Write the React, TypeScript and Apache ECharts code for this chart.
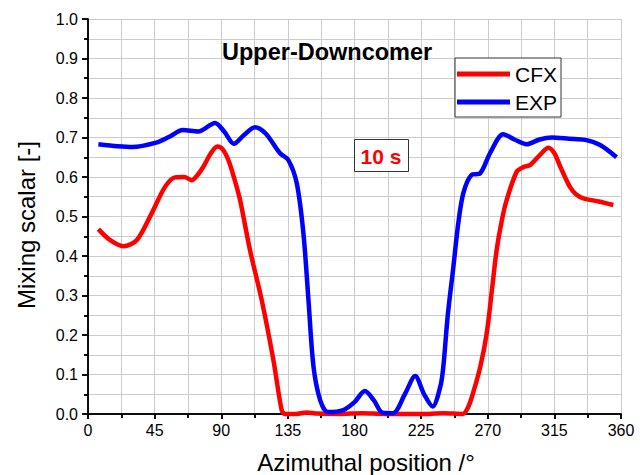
import React, { useEffect, useRef } from "react";
import * as echarts from "echarts";

const cfxAngles = [7, 15, 23.9, 32.9, 43, 52, 58.8, 65, 70, 74, 77.9, 83, 87.3, 91, 94.8, 98.5, 102.7, 109.4, 117.3, 125.2, 130.8, 133, 140, 147.7, 155, 170, 185, 200, 230, 240, 253, 256.5, 260, 265, 269.3, 273, 276, 279.5, 282.8, 289.5, 294, 298.5, 305, 311, 315, 319, 325.5, 330, 334.6, 345, 354.8];
const cfxValues = [0.468, 0.44, 0.425, 0.44, 0.508, 0.575, 0.599, 0.6, 0.592, 0.605, 0.626, 0.66, 0.677, 0.67, 0.643, 0.6, 0.542, 0.415, 0.289, 0.137, 0.01, 0, 0, 0.004, 0.001, 0, 0.002, 0, 0, 0.002, 0, 0.015, 0.052, 0.12, 0.204, 0.32, 0.415, 0.49, 0.542, 0.613, 0.625, 0.63, 0.655, 0.674, 0.66, 0.626, 0.575, 0.555, 0.546, 0.538, 0.529];

const expAngles = [7, 20, 30, 46, 55, 64, 74.5, 85.8, 92, 98.6, 105, 112.8, 120, 129.7, 135.3, 141, 145.5, 148.9, 152.3, 156.8, 162, 172.5, 180, 187, 193, 199, 206, 214, 221, 227, 232.8, 238, 240, 243, 246.8, 250, 253.5, 259, 264.8, 271.5, 280.5, 288, 296.3, 305, 313.2, 325, 335.8, 345.9, 357];
const expValues = [0.683, 0.678, 0.676, 0.687, 0.702, 0.719, 0.715, 0.737, 0.715, 0.684, 0.705, 0.726, 0.71, 0.66, 0.643, 0.584, 0.457, 0.289, 0.12, 0.035, 0.005, 0.01, 0.03, 0.058, 0.035, 0.003, 0.002, 0.05, 0.096, 0.05, 0.019, 0.07, 0.12, 0.25, 0.373, 0.48, 0.559, 0.605, 0.609, 0.66, 0.708, 0.695, 0.683, 0.695, 0.7, 0.697, 0.694, 0.681, 0.65];

const xTicks = [0, 45, 90, 135, 180, 225, 270, 315, 360];
const seriesNames = ["CFX", "EXP"];

const FONT = "'Liberation Sans', Arial, sans-serif";

export default function App() {
  const ref = useRef<HTMLDivElement>(null);
  useEffect(() => {
    if (!ref.current) return;
    const chart = echarts.init(ref.current, null, { renderer: "svg" });
    const gridLine = { show: true, lineStyle: { color: "#cccccc", width: 1 } };
    chart.setOption({
      animation: false,
      backgroundColor: "#ffffff",
      grid: { left: 88, right: 21, top: 19, bottom: 61 },
      legend: {
        orient: "vertical",
        left: 455,
        top: 58,
        data: seriesNames.map((n) => ({ name: n, icon: "rect" })),
        itemWidth: 53,
        itemHeight: 5,
        itemGap: 6,
        padding: [5, 4, 4, 2],
        borderColor: "#333333",
        borderWidth: 1,
        backgroundColor: "#ffffff",
        textStyle: { fontSize: 21, color: "#000", fontFamily: FONT, lineHeight: 22 },
      },
      xAxis: [
        {
          type: "value",
          min: 0,
          max: 360,
          interval: 45,
          axisLine: { show: true, onZero: false, lineStyle: { color: "#000", width: 1.5 } },
          axisTick: { show: true, length: 5, lineStyle: { color: "#000", width: 1.5 } },
          minorTick: { show: true, splitNumber: 2, length: 4, lineStyle: { color: "#000", width: 1.5 } },
          axisLabel: { fontSize: 16, color: "#000", fontFamily: FONT, margin: 8, formatter: (v: number) => (xTicks.includes(v) ? String(v) : "") },
          splitLine: gridLine,
          minorSplitLine: gridLine,
        },
        {
          type: "value",
          position: "top",
          min: 0,
          max: 360,
          interval: 45,
          axisLine: { show: true, lineStyle: { color: "#000", width: 1.5 } },
          axisTick: { show: true, inside: true, length: 5, lineStyle: { color: "#000", width: 1.5 } },
          minorTick: { show: true, splitNumber: 2, length: 4, lineStyle: { color: "#000", width: 1.5 } },
          axisLabel: { show: false },
          splitLine: { show: false },
        },
      ],
      yAxis: [
        {
          type: "value",
          min: 0,
          max: 1,
          interval: 0.1,
          axisLine: { show: true, onZero: false, lineStyle: { color: "#000", width: 1.5 } },
          axisTick: { show: true, length: 6, lineStyle: { color: "#000", width: 1.5 } },
          minorTick: { show: true, splitNumber: 2, length: 4, lineStyle: { color: "#000", width: 1.5 } },
          axisLabel: { fontSize: 16, color: "#000", fontFamily: FONT, margin: 10, formatter: (v: number) => v.toFixed(1) },
          splitLine: gridLine,
          minorSplitLine: gridLine,
        },
        {
          type: "value",
          position: "right",
          min: 0,
          max: 1,
          interval: 0.1,
          axisLine: { show: true, lineStyle: { color: "#000", width: 1.5 } },
          axisTick: { show: true, inside: true, length: 6, lineStyle: { color: "#000", width: 1.5 } },
          minorTick: { show: true, splitNumber: 2, length: 4, lineStyle: { color: "#000", width: 1.5 } },
          axisLabel: { show: false },
          splitLine: { show: false },
        },
      ],
      series: [
        {
          name: "CFX",
          type: "line",
          data: cfxAngles.map((a, i) => [a, cfxValues[i]]),
          smooth: 0.3,
          symbol: "none",
          clip: false,
          lineStyle: { color: "#ff0000", width: 4.5 },
          itemStyle: { color: "#ff0000" },
          z: 3,
        },
        {
          name: "EXP",
          type: "line",
          data: expAngles.map((a, i) => [a, expValues[i]]),
          smooth: 0.3,
          symbol: "none",
          clip: false,
          lineStyle: { color: "#0000ff", width: 4.5 },
          itemStyle: { color: "#0000ff" },
          z: 4,
        },
      ],
      graphic: [
        {
          type: "text",
          x: 222,
          y: 52,
          style: { text: "Upper-Downcomer", font: `bold 23.5px ${FONT}`, fill: "#000", align: "left", verticalAlign: "middle" },
          z: 10,
        },
        {
          type: "rect",
          shape: { x: 354.5, y: 139.5, width: 54, height: 32 },
          style: { fill: "#ffffff", stroke: "#333333", lineWidth: 1 },
          z: 10,
        },
        {
          type: "text",
          x: 381,
          y: 156,
          style: { text: "10 s", font: `bold 21px ${FONT}`, fill: "#ff0000", align: "center", verticalAlign: "middle" },
          z: 11,
        },
        {
          type: "text",
          x: 26,
          y: 225,
          rotation: Math.PI / 2,
          style: { text: "Mixing scalar [-]", font: `24px ${FONT}`, fill: "#000", align: "center", verticalAlign: "middle" },
          z: 10,
        },
        {
          type: "text",
          x: 366,
          y: 462,
          style: { text: "Azimuthal position /°", font: `24px ${FONT}`, fill: "#000", align: "center", verticalAlign: "middle" },
          z: 10,
        },
      ],
    });
    return () => chart.dispose();
  }, []);
  return <div ref={ref} style={{ width: 642, height: 475, position: "absolute", left: 0, top: 0 }} />;
}
